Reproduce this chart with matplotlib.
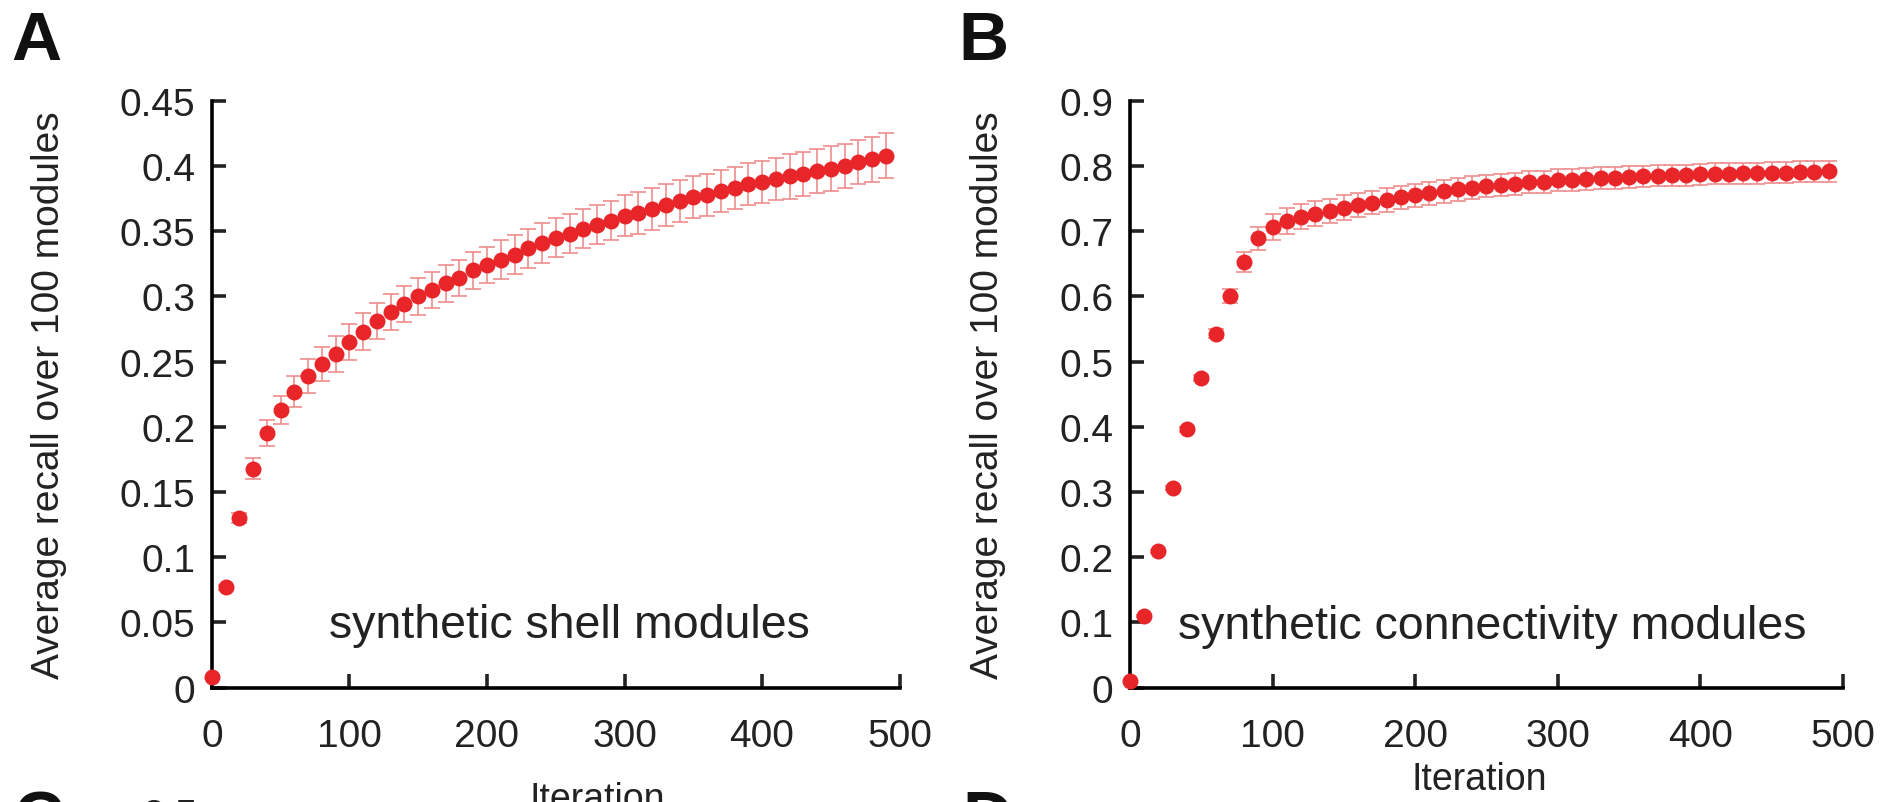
import numpy as np
import matplotlib
matplotlib.use('Agg')
import matplotlib.pyplot as plt

plt.rcParams['font.family'] = ['Liberation Sans', 'DejaVu Sans']

# iterations (every 10 up to 490)
iters = list(range(0, 500, 10))

# panel A: synthetic shell modules
recall_a = [0.008, 0.077, 0.130, 0.168, 0.195, 0.213, 0.227, 0.239, 0.248, 0.256,
            0.265, 0.273, 0.281, 0.288, 0.294, 0.300, 0.305, 0.310, 0.314, 0.320,
            0.324, 0.328, 0.332, 0.337, 0.341, 0.345, 0.348, 0.352, 0.355, 0.358,
            0.362, 0.364, 0.367, 0.370, 0.373, 0.376, 0.378, 0.381, 0.383, 0.386,
            0.388, 0.390, 0.392, 0.394, 0.396, 0.398, 0.400, 0.403, 0.405, 0.408]
err_a = [0.0, 0.002, 0.004, 0.008, 0.010, 0.011, 0.012, 0.013, 0.013, 0.014,
         0.014, 0.014, 0.014, 0.014, 0.014, 0.014, 0.014, 0.014, 0.014, 0.014,
         0.014, 0.015, 0.015, 0.015, 0.015, 0.015, 0.015, 0.015, 0.015, 0.015,
         0.016, 0.016, 0.016, 0.016, 0.016, 0.016, 0.016, 0.016, 0.016, 0.016,
         0.016, 0.016, 0.017, 0.017, 0.017, 0.017, 0.017, 0.017, 0.017, 0.017]

# panel B: synthetic connectivity modules
recall_b = [0.010, 0.110, 0.209, 0.306, 0.396, 0.475, 0.543, 0.601, 0.653, 0.689,
            0.707, 0.716, 0.722, 0.727, 0.731, 0.736, 0.740, 0.744, 0.748, 0.752,
            0.755, 0.758, 0.761, 0.764, 0.767, 0.769, 0.771, 0.773, 0.775, 0.776,
            0.778, 0.779, 0.780, 0.781, 0.782, 0.783, 0.784, 0.785, 0.786, 0.786,
            0.787, 0.788, 0.788, 0.789, 0.789, 0.790, 0.790, 0.791, 0.791, 0.792]
err_b = [0.0, 0.001, 0.002, 0.003, 0.004, 0.005, 0.007, 0.011, 0.015, 0.018,
         0.020, 0.020, 0.019, 0.019, 0.019, 0.019, 0.018, 0.018, 0.018, 0.018,
         0.018, 0.018, 0.018, 0.018, 0.017, 0.017, 0.017, 0.017, 0.017, 0.017,
         0.017, 0.017, 0.017, 0.017, 0.017, 0.017, 0.016, 0.016, 0.016, 0.016,
         0.016, 0.016, 0.016, 0.016, 0.016, 0.016, 0.016, 0.016, 0.016, 0.016]

yticks_a = [0, 0.05, 0.1, 0.15, 0.2, 0.25, 0.3, 0.35, 0.4, 0.45]
ytick_labels_a = ['0', '0.05', '0.1', '0.15', '0.2', '0.25', '0.3', '0.35', '0.4', '0.45']
yticks_b = [0, 0.1, 0.2, 0.3, 0.4, 0.5, 0.6, 0.7, 0.8, 0.9]
ytick_labels_b = ['0', '0.1', '0.2', '0.3', '0.4', '0.5', '0.6', '0.7', '0.8', '0.9']
xticks = [0, 100, 200, 300, 400, 500]

red = '#e8262a'
pink = '#f08c8c'

fig = plt.figure(figsize=(19.01, 8.03), dpi=100)
ax_a = fig.add_axes([0.1115, 0.1425, 0.3617, 0.7307])
ax_b = fig.add_axes([0.5944, 0.1425, 0.3751, 0.7307])


def style_axis(ax, yticks, ylabels, ymax):
    ax.set_xlim(0, 500)
    ax.set_ylim(0, ymax)
    ax.set_xticks(xticks)
    ax.set_yticks(yticks)
    ax.set_yticklabels(ylabels)
    for s in ['top', 'right']:
        ax.spines[s].set_visible(False)
    for s in ['left', 'bottom']:
        ax.spines[s].set_linewidth(2.6)
    ax.tick_params(direction='in', length=10, width=2.6, labelsize=28, colors='#222222')
    ax.tick_params(axis='x', pad=22)
    ax.tick_params(axis='y', pad=12)
    ax.set_ylabel('Average recall over 100 modules', fontsize=28, color='#222222', labelpad=38)
    ax.set_xlabel('Iteration', fontsize=27, color='#222222')


for ax, y, e in [(ax_a, recall_a, err_a), (ax_b, recall_b, err_b)]:
    ax.errorbar(iters, y, yerr=e, fmt='none', ecolor=pink, elinewidth=1.2,
                capsize=5.5, capthick=1.2, zorder=2)
    ax.plot(iters, y, 'o', color=red, markersize=11.5, markeredgewidth=0,
            clip_on=False, zorder=3)

style_axis(ax_a, yticks_a, ytick_labels_a, 0.45)
style_axis(ax_b, yticks_b, ytick_labels_b, 0.9)
ax_a.xaxis.set_label_coords(0.56, -0.16)
ax_b.xaxis.set_label_coords(0.49, -0.125)

ax_a.text(85, 0.048, 'synthetic shell modules', fontsize=33.5, color='#222222', va='center')
ax_b.text(34, 0.095, 'synthetic connectivity modules', fontsize=33.5, color='#222222', va='center')

# panel letters
fig.text(0.006, 0.925, 'A', fontsize=50, fontweight='bold', color='#111111')
fig.text(0.504, 0.925, 'B', fontsize=50, fontweight='bold', color='#111111')
# clipped tops of the next row
fig.text(0.007, -0.045, 'C', fontsize=50, fontweight='bold', color='#111111')
fig.text(0.506, -0.045, 'D', fontsize=50, fontweight='bold', color='#111111')
fig.text(0.075, -0.03, '2.5', fontsize=28, color='#222222')

fig.savefig('out.png', dpi=100)
